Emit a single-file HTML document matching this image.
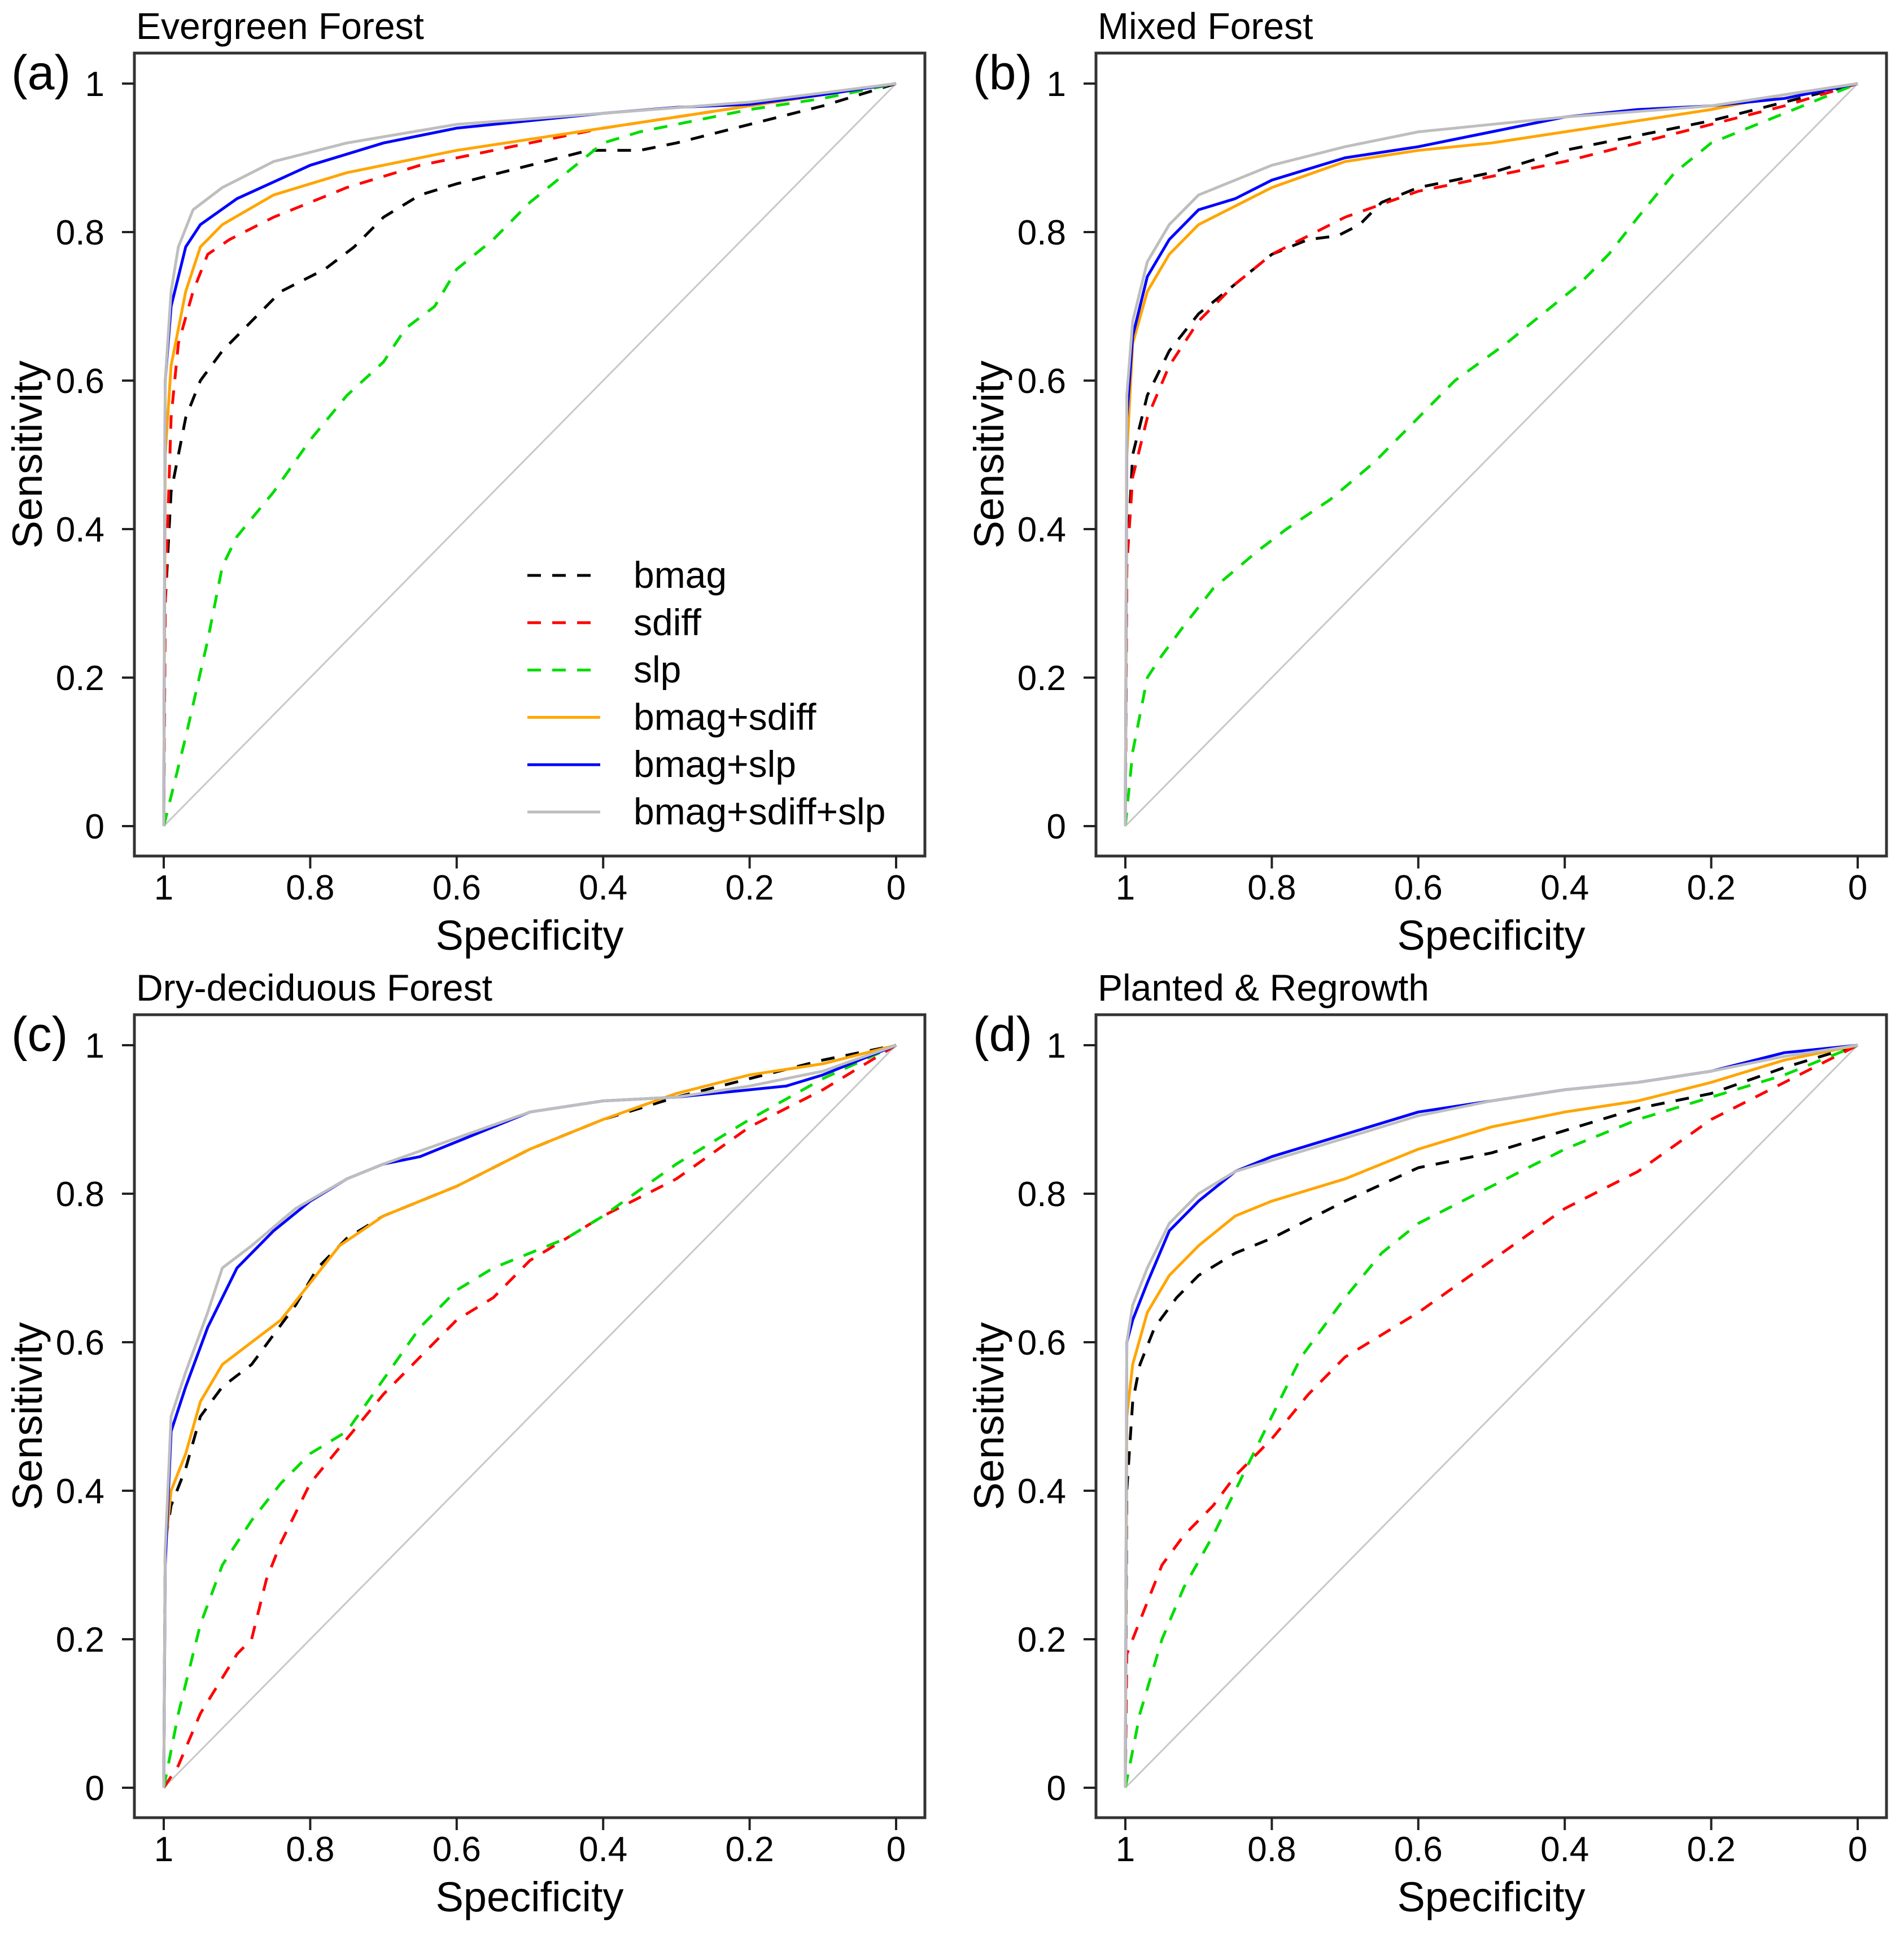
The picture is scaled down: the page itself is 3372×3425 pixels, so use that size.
<!DOCTYPE html>
<html><head><meta charset="utf-8">
<style>
html,body{margin:0;padding:0;background:#fff;}
svg{display:block;font-family:"Liberation Sans",Arial,sans-serif;}
</style></head>
<body>
<svg id="fig" width="3372" height="3425" viewBox="0 0 3372 3425" xmlns="http://www.w3.org/2000/svg"></svg>
<script>
const panelTitles = ["Evergreen Forest","Mixed Forest","Dry-deciduous Forest","Planted & Regrowth"];
const panelLetters = ["(a)","(b)","(c)","(d)"];
const seriesNames = ["bmag","sdiff","slp","bmag+sdiff","bmag+slp","bmag+sdiff+slp"];
const tickValues = [0,0.2,0.4,0.6,0.8,1];
const tickLabels = ["0","0.2","0.4","0.6","0.8","1"];

// Panel (a) specificity / sensitivity
const aBmagSpec=[1,0.998,0.99,0.97,0.95,0.92,0.88,0.84,0.78,0.74,0.70,0.65,0.6,0.5,0.42,0.35,0.3,0.2,0.1,0];
const aBmagSens=[0,0.3,0.45,0.55,0.6,0.64,0.68,0.72,0.75,0.78,0.82,0.85,0.865,0.89,0.91,0.91,0.92,0.945,0.97,1];
const aSdiffSpec=[1,0.998,0.99,0.98,0.96,0.94,0.91,0.85,0.75,0.65,0.5,0.4,0.3,0.2,0.1,0];
const aSdiffSens=[0,0.3,0.55,0.65,0.72,0.77,0.79,0.82,0.86,0.89,0.92,0.94,0.955,0.97,0.985,1];
const aSlpSpec=[1,0.97,0.94,0.92,0.9,0.85,0.8,0.75,0.7,0.67,0.63,0.6,0.55,0.5,0.45,0.4,0.35,0.3,0.2,0.1,0];
const aSlpSens=[0,0.12,0.25,0.35,0.39,0.45,0.52,0.58,0.625,0.67,0.70,0.75,0.79,0.84,0.88,0.92,0.935,0.945,0.965,0.98,1];
const aBSSpec=[1,0.998,0.99,0.97,0.95,0.92,0.85,0.75,0.6,0.4,0.2,0];
const aBSSens=[0,0.5,0.62,0.72,0.78,0.81,0.85,0.88,0.91,0.94,0.97,1];
const aBLSpec=[1,0.998,0.99,0.97,0.95,0.9,0.8,0.7,0.6,0.4,0.3,0.2,0.1,0];
const aBLSens=[0,0.6,0.7,0.78,0.81,0.845,0.89,0.92,0.94,0.96,0.968,0.972,0.985,1];
const aAllSpec=[1,0.998,0.99,0.98,0.96,0.92,0.85,0.75,0.6,0.4,0.2,0];
const aAllSens=[0,0.6,0.72,0.78,0.83,0.86,0.895,0.92,0.945,0.96,0.975,1];

// Panel (b)
const bBmagSpec=[1,0.998,0.99,0.97,0.94,0.9,0.85,0.8,0.75,0.71,0.68,0.65,0.6,0.5,0.4,0.3,0.2,0.1,0];
const bBmagSens=[0,0.35,0.5,0.58,0.64,0.69,0.73,0.77,0.79,0.795,0.81,0.84,0.86,0.88,0.91,0.93,0.95,0.975,1];
const bSdiffSpec=[1,0.998,0.99,0.97,0.94,0.9,0.85,0.8,0.7,0.6,0.5,0.4,0.3,0.2,0.1,0];
const bSdiffSens=[0,0.35,0.47,0.55,0.62,0.68,0.73,0.77,0.82,0.855,0.875,0.895,0.92,0.945,0.97,1];
const bSlpSpec=[1,0.99,0.97,0.95,0.92,0.88,0.82,0.78,0.72,0.66,0.6,0.55,0.48,0.43,0.38,0.34,0.3,0.25,0.2,0.1,0];
const bSlpSens=[0,0.1,0.2,0.23,0.27,0.32,0.37,0.40,0.44,0.49,0.55,0.6,0.65,0.69,0.73,0.77,0.82,0.88,0.92,0.96,1];
const bBSSpec=[1,0.998,0.99,0.97,0.94,0.9,0.8,0.7,0.6,0.5,0.4,0.3,0.2,0.1,0];
const bBSSens=[0,0.5,0.65,0.72,0.77,0.81,0.86,0.895,0.91,0.92,0.935,0.95,0.965,0.985,1];
const bBLSpec=[1,0.998,0.99,0.97,0.94,0.9,0.85,0.8,0.7,0.6,0.5,0.4,0.3,0.2,0.1,0];
const bBLSens=[0,0.55,0.66,0.74,0.79,0.83,0.845,0.87,0.9,0.915,0.935,0.955,0.965,0.97,0.98,1];
const bAllSpec=[1,0.998,0.99,0.97,0.94,0.9,0.8,0.7,0.6,0.5,0.4,0.2,0];
const bAllSens=[0,0.58,0.68,0.76,0.81,0.85,0.89,0.915,0.935,0.945,0.955,0.97,1];

// Panel (c)
const cBmagSpec=[1,0.998,0.99,0.97,0.95,0.92,0.88,0.85,0.82,0.79,0.75,0.7,0.6,0.5,0.4,0.3,0.2,0.1,0];
const cBmagSens=[0,0.33,0.38,0.43,0.5,0.54,0.57,0.61,0.65,0.7,0.74,0.77,0.81,0.86,0.9,0.93,0.955,0.98,1];
const cSdiffSpec=[1,0.98,0.95,0.9,0.88,0.86,0.84,0.8,0.75,0.7,0.65,0.6,0.55,0.5,0.45,0.4,0.3,0.2,0.1,0];
const cSdiffSens=[0,0.03,0.1,0.18,0.2,0.28,0.33,0.41,0.47,0.53,0.58,0.63,0.66,0.71,0.74,0.77,0.82,0.89,0.94,1];
const cSlpSpec=[1,0.98,0.95,0.92,0.88,0.84,0.8,0.75,0.7,0.65,0.6,0.55,0.5,0.45,0.4,0.3,0.2,0.1,0];
const cSlpSens=[0,0.1,0.22,0.3,0.36,0.41,0.45,0.48,0.55,0.62,0.67,0.7,0.72,0.74,0.77,0.84,0.9,0.955,1];
const cBSSpec=[1,0.998,0.99,0.97,0.95,0.92,0.88,0.84,0.8,0.76,0.7,0.6,0.5,0.4,0.3,0.2,0.1,0];
const cBSSens=[0,0.32,0.4,0.45,0.52,0.57,0.6,0.63,0.68,0.73,0.77,0.81,0.86,0.9,0.935,0.96,0.975,1];
const cBLSpec=[1,0.998,0.99,0.97,0.94,0.9,0.85,0.8,0.75,0.7,0.65,0.6,0.5,0.4,0.3,0.2,0.15,0.1,0];
const cBLSens=[0,0.3,0.48,0.54,0.62,0.7,0.75,0.79,0.82,0.84,0.85,0.87,0.91,0.925,0.93,0.94,0.945,0.96,1];
const cAllSpec=[1,0.998,0.99,0.97,0.94,0.92,0.88,0.82,0.75,0.7,0.6,0.5,0.4,0.3,0.2,0.1,0];
const cAllSens=[0,0.32,0.5,0.56,0.64,0.7,0.73,0.78,0.82,0.84,0.875,0.91,0.925,0.93,0.945,0.965,1];

// Panel (d)
const dBmagSpec=[1,0.998,0.99,0.98,0.96,0.93,0.9,0.85,0.8,0.7,0.6,0.5,0.4,0.3,0.2,0.1,0];
const dBmagSens=[0,0.4,0.52,0.57,0.62,0.66,0.69,0.72,0.74,0.79,0.835,0.855,0.885,0.915,0.935,0.97,1];
const dSdiffSpec=[1,0.998,0.99,0.97,0.95,0.92,0.88,0.85,0.8,0.75,0.7,0.6,0.5,0.4,0.3,0.2,0.1,0];
const dSdiffSens=[0,0.18,0.2,0.25,0.3,0.34,0.38,0.42,0.47,0.53,0.58,0.64,0.71,0.78,0.83,0.9,0.95,1];
const dSlpSpec=[1,0.98,0.95,0.92,0.88,0.84,0.8,0.76,0.7,0.65,0.6,0.5,0.4,0.3,0.2,0.1,0];
const dSlpSens=[0,0.1,0.2,0.27,0.34,0.42,0.5,0.58,0.66,0.72,0.76,0.81,0.86,0.9,0.93,0.96,1];
const dBSSpec=[1,0.998,0.99,0.97,0.94,0.9,0.85,0.8,0.7,0.6,0.5,0.4,0.3,0.2,0.1,0];
const dBSSens=[0,0.5,0.57,0.64,0.69,0.73,0.77,0.79,0.82,0.86,0.89,0.91,0.925,0.95,0.98,1];
const dBLSpec=[1,0.998,0.99,0.97,0.94,0.9,0.85,0.8,0.7,0.6,0.5,0.4,0.3,0.2,0.1,0];
const dBLSens=[0,0.6,0.63,0.68,0.75,0.79,0.83,0.85,0.88,0.91,0.925,0.94,0.95,0.965,0.99,1];
const dAllSpec=[1,0.998,0.99,0.97,0.94,0.9,0.85,0.8,0.7,0.6,0.5,0.4,0.3,0.2,0.1,0];
const dAllSens=[0,0.6,0.65,0.7,0.76,0.8,0.83,0.845,0.875,0.905,0.925,0.94,0.95,0.965,0.985,1];

const panelSpec=[[aBmagSpec,aSdiffSpec,aSlpSpec,aBSSpec,aBLSpec,aAllSpec],[bBmagSpec,bSdiffSpec,bSlpSpec,bBSSpec,bBLSpec,bAllSpec],[cBmagSpec,cSdiffSpec,cSlpSpec,cBSSpec,cBLSpec,cAllSpec],[dBmagSpec,dSdiffSpec,dSlpSpec,dBSSpec,dBLSpec,dAllSpec]];
const panelSens=[[aBmagSens,aSdiffSens,aSlpSens,aBSSens,aBLSens,aAllSens],[bBmagSens,bSdiffSens,bSlpSens,bBSSens,bBLSens,bAllSens],[cBmagSens,cSdiffSens,cSlpSens,cBSSens,cBLSens,cAllSens],[dBmagSens,dSdiffSens,dSlpSens,dBSSens,dBLSens,dAllSens]];

const colors=["#000000","#ff0000","#00dd00","#ffa500","#0000ff","#bebebe"];
const dashed=[true,true,true,false,false,false];
const NS="http://www.w3.org/2000/svg";
const svg=document.getElementById('fig');
function mk(tag,attrs,parent){const e=document.createElementNS(NS,tag);for(const k in attrs)e.setAttribute(k,attrs[k]);parent.appendChild(e);return e;}

const offX=1703, offY=1703;
for(let p=0;p<4;p++){
  const ox=(p%2)*offX, oy=Math.floor(p/2)*offY;
  const g=mk('g',{},svg);
  
  
  const xs=v=>ox+1587-(1587-290)*v; // specificity 1 -> left
  const ys=v=>oy+1463-(1463-148)*v;
  // diagonal
  const diag=mk('line',{x1:xs(1),y1:ys(0),x2:xs(0),y2:ys(1),stroke:'#c8c8c8','stroke-width':3},g);
  
  
  // series
  for(let s=0;s<6;s++){
    const sp=panelSpec[p][s], se=panelSens[p][s];
    const pts=sp.map((v,i)=>xs(v).toFixed(1)+','+ys(se[i]).toFixed(1)).join(' ');
    const pl=mk('polyline',{points:pts,fill:'none',stroke:colors[s],'stroke-width':5,'stroke-linejoin':'round'},g);
    if(dashed[s])pl.setAttribute('stroke-dasharray','24 20');
    
    
  }
  // frame
  const fr=mk('rect',{x:ox+238,y:oy+94,width:1400,height:1422,fill:'none',stroke:'#333','stroke-width':5},g);
  
  
  // ticks
  tickValues.forEach((v,i)=>{
    const tx=mk('line',{x1:xs(v),y1:oy+1516,x2:xs(v),y2:oy+1538,stroke:'#222','stroke-width':4},g);
    
    
    const lx=mk('text',{x:xs(v),y:oy+1593,'font-size':62,'text-anchor':'middle',fill:'#000'},g);
    lx.textContent=tickLabels[i];
    
    
    const ty=mk('line',{x1:ox+216,y1:ys(v),x2:ox+238,y2:ys(v),stroke:'#222','stroke-width':4},g);
    
    
    const ly=mk('text',{x:ox+185,y:ys(v)+22,'font-size':62,'text-anchor':'end',fill:'#000'},g);
    ly.textContent=tickLabels[i];
    
    
  });
  const xt=mk('text',{x:ox+938,y:oy+1682,'font-size':74,'text-anchor':'middle',fill:'#000'},g);
  xt.textContent='Specificity';
  
  
  const yt=mk('text',{x:0,y:0,'font-size':74,'text-anchor':'middle',fill:'#000',transform:'translate('+(ox+74)+','+(oy+805)+') rotate(-90)'},g);
  yt.textContent='Sensitivity';
  
  
  const tt=mk('text',{x:ox+241,y:oy+69,'font-size':66,fill:'#000'},g);
  tt.textContent=panelTitles[p];
  
  
  const lt=mk('text',{x:ox+20,y:oy+158,'font-size':86,fill:'#000'},g);
  lt.textContent=panelLetters[p];
  
  
}
// legend in panel a
const lg=mk('g',{},svg);


seriesNames.forEach((n,i)=>{
  const y=1019+i*83.8;
  const ln=mk('line',{x1:934,y1:y,x2:1063,y2:y,stroke:colors[i],'stroke-width':5},lg);
  if(dashed[i])ln.setAttribute('stroke-dasharray','24 20');
  
  
  const t=mk('text',{x:1122,y:y+22,'font-size':66,fill:'#000'},lg);
  t.textContent=n;
  
  
});
</script>
</body></html>
